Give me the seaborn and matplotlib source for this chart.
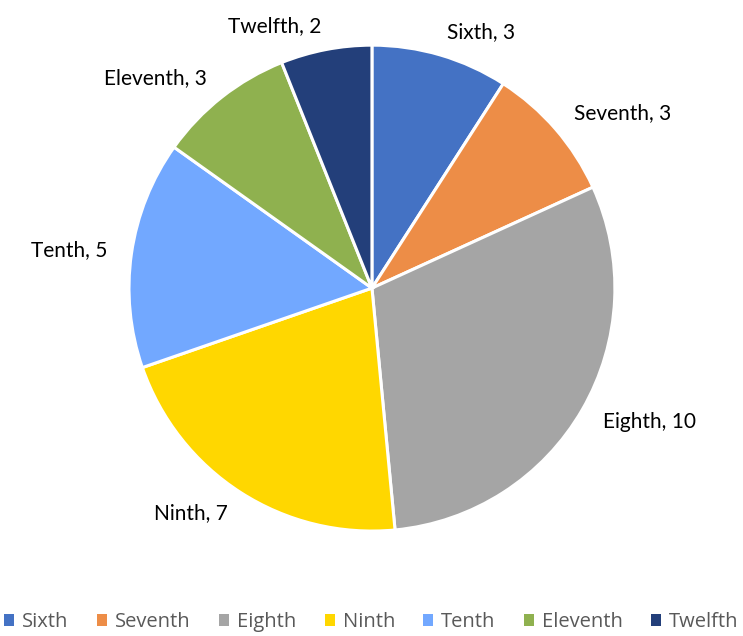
"""
Pie chart of counts per grade, Excel-style labels and bottom legend.
"""

import matplotlib
matplotlib.use("Agg")
import matplotlib.pyplot as plt
import seaborn as sns
from matplotlib.patches import Patch

grades = ["Sixth", "Seventh", "Eighth", "Ninth", "Tenth", "Eleventh", "Twelfth"]
counts = [3, 3, 10, 7, 5, 3, 2]
colors = ["#4472C4", "#ED8D47", "#A5A5A5", "#FFD700", "#72A8FF", "#8FB14F", "#233F7A"]

sns.set_theme(style="white")
plt.rcParams["font.family"] = ["Lato", "DejaVu Sans"]

palette = sns.color_palette(colors)

fig = plt.figure(figsize=(7.43, 6.36), dpi=100)
ax = fig.add_axes([0.1736, 0.165, 0.654, 0.764])

labels = [f"{g}, {c}" for g, c in zip(grades, counts)]
wedges, texts = ax.pie(
    counts, labels=labels, colors=palette, startangle=90, counterclock=False,
    labeldistance=1.1, radius=1.0,
    wedgeprops=dict(edgecolor="white", linewidth=2.2),
    textprops=dict(fontsize=15, color="black"),
)
ax.set_xlim(-1, 1)
ax.set_ylim(-1, 1)
ax.set_aspect("equal")
ax.axis("off")

handles = [Patch(facecolor=c, edgecolor="none") for c in palette]
fig.legend(
    handles, grades, loc="center", bbox_to_anchor=(0.5, 0.022), ncol=7,
    frameon=False, handlelength=0.5, handleheight=0.5, handletextpad=0.4,
    columnspacing=1.4, prop=dict(family="Open Sans", size=14.5), labelcolor="#595959",
)

fig.savefig("out.png", dpi=100)
